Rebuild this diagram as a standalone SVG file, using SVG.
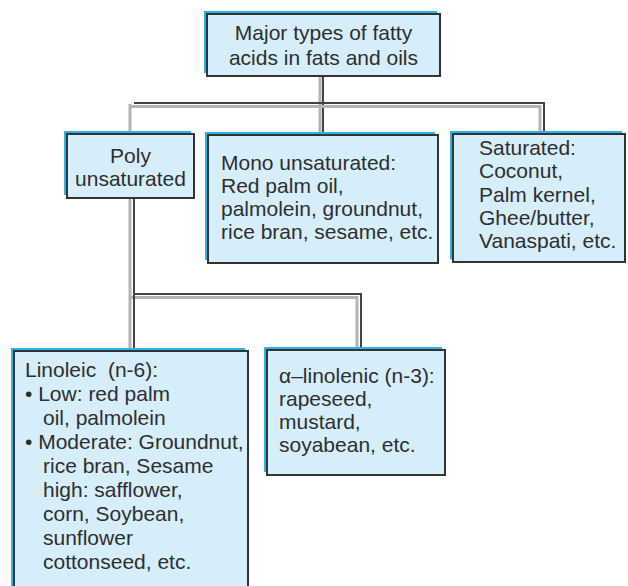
<svg xmlns="http://www.w3.org/2000/svg" width="628" height="586" viewBox="0 0 628 586">
<style>
.sh{fill:#2cb4e6}
.bx{fill:#d6eefa;stroke:#333;stroke-width:2}
.t{font-family:"Liberation Sans",Arial,sans-serif;font-size:21px;fill:#2e2e2e}
.c{text-anchor:middle}
.lg{fill:none;stroke:#b4b4b4;stroke-width:3}
.dk{fill:none;stroke:#444;stroke-width:2}
</style>
<rect width="628" height="586" fill="#fff"/>
<g id="connectors">
<path class="lg" d="M320 76V132"/><path class="dk" d="M323 76V132"/>
<path class="lg" d="M130 104V132M131 106.5H540V132"/>
<path class="dk" d="M134 103H544V132"/>
<path class="lg" d="M130 198V348M131 297.5H357V347"/>
<path class="dk" d="M134 198V348M134 294H361V347"/>
</g>
<g id="top">
<rect class="sh" x="204" y="11" width="233" height="62"/>
<rect class="bx" x="207" y="14" width="233" height="62"/>
<text class="t c" x="323.5" y="40">Major types of fatty</text>
<text class="t c" x="323.5" y="65">acids in fats and oils</text>
</g>
<g id="poly">
<rect class="sh" x="64" y="131" width="127" height="64"/>
<rect class="bx" x="67" y="134" width="127" height="64"/>
<text class="t c" x="130.5" y="163">Poly</text>
<text class="t c" x="130.5" y="186">unsaturated</text>
</g>
<g id="mono">
<rect class="sh" x="205" y="132" width="230" height="128"/>
<rect class="bx" x="208" y="135" width="230" height="128"/>
<text class="t" x="221" y="170">Mono unsaturated:</text>
<text class="t" x="221" y="193">Red palm oil,</text>
<text class="t" x="221" y="216">palmolein, groundnut,</text>
<text class="t" x="221" y="239">rice bran, sesame, etc.</text>
</g>
<g id="saturated">
<rect class="sh" x="450" y="131" width="172" height="128"/>
<rect class="bx" x="453" y="134" width="172" height="128"/>
<text class="t" x="479" y="155">Saturated:</text>
<text class="t" x="479" y="178">Coconut,</text>
<text class="t" x="479" y="202">Palm kernel,</text>
<text class="t" x="479" y="225">Ghee/butter,</text>
<text class="t" x="479" y="248">Vanaspati, etc.</text>
</g>
<g id="linoleic">
<rect class="sh" x="11" y="348" width="234" height="250"/>
<rect class="bx" x="14" y="351" width="234" height="250"/>
<text class="t" x="25" y="377">Linoleic&#160; (n-6):</text>
<text class="t" x="25" y="401">• Low: red palm</text>
<text class="t" x="43" y="425">oil, palmolein</text>
<text class="t" x="25" y="449">• Moderate: Groundnut,</text>
<text class="t" x="43" y="473">rice bran, Sesame</text>
<text class="t" x="43" y="497">high: safflower,</text>
<text class="t" x="43" y="521">corn, Soybean,</text>
<text class="t" x="43" y="545">sunflower</text>
<text class="t" x="43" y="569">cottonseed, etc.</text>
</g>
<g id="alpha">
<rect class="sh" x="264" y="347" width="178" height="125"/>
<rect class="bx" x="267" y="350" width="178" height="125"/>
<text class="t" x="279" y="383">α–linolenic (n-3):</text>
<text class="t" x="279" y="406">rapeseed,</text>
<text class="t" x="279" y="429">mustard,</text>
<text class="t" x="279" y="452">soyabean, etc.</text>
</g>
</svg>
